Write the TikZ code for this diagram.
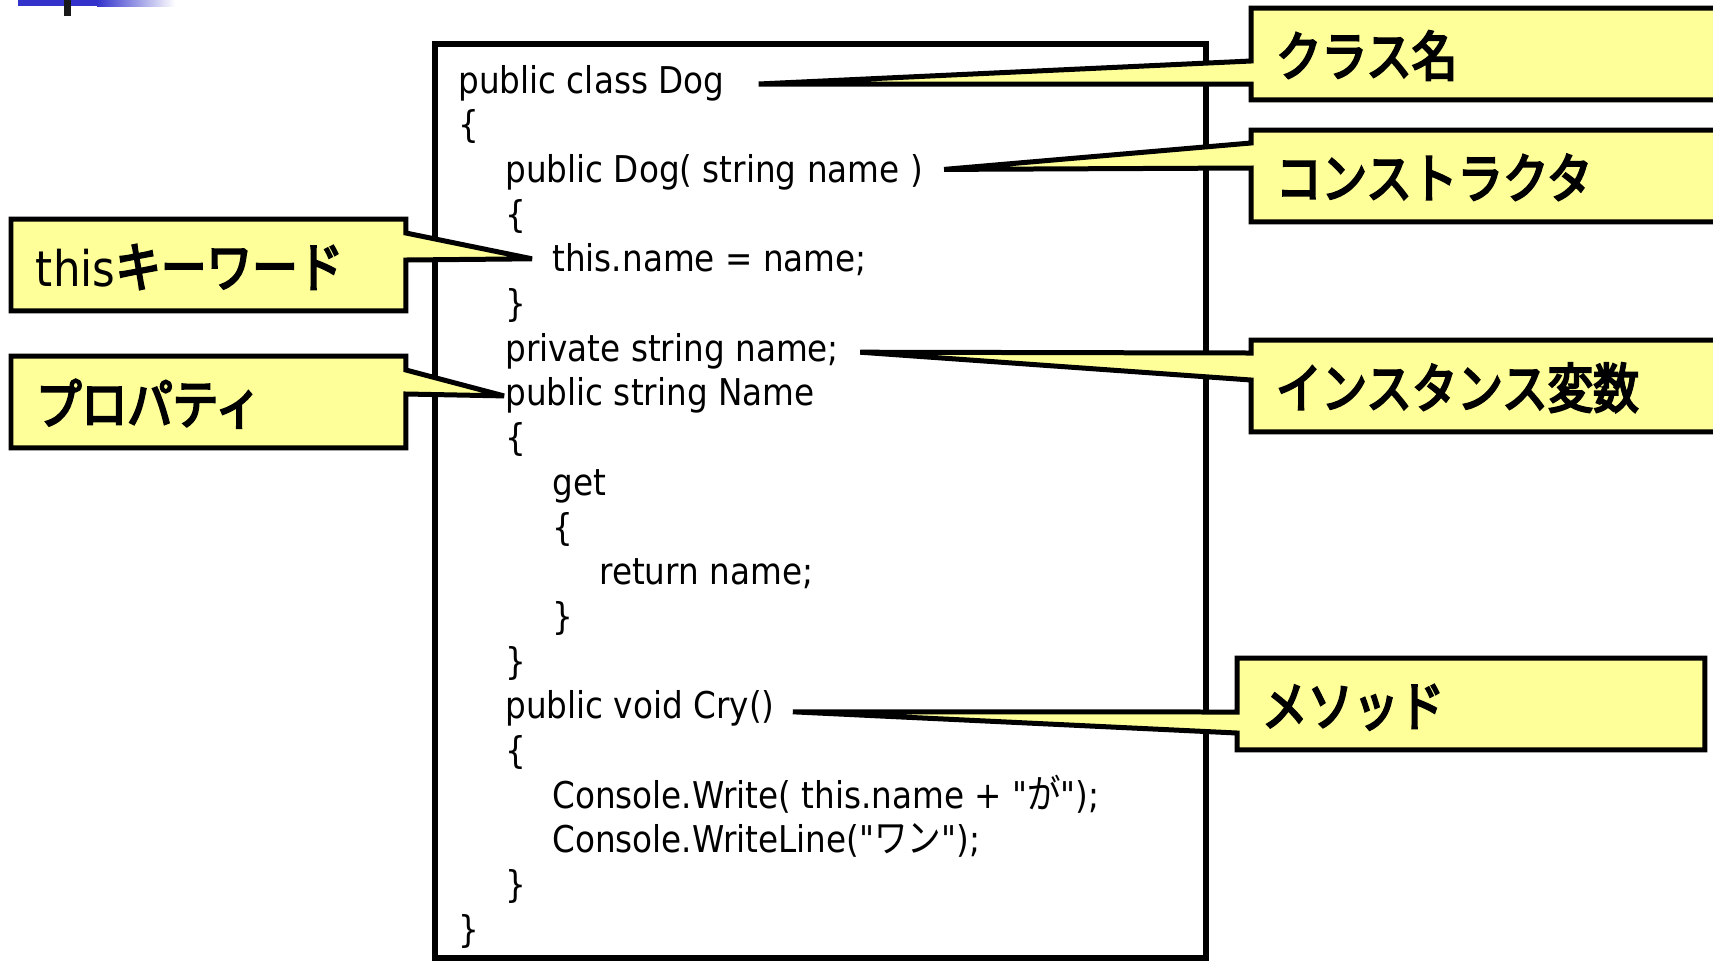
\documentclass[tikz,border=0pt]{standalone}
\usepackage{fontspec}
\setmainfont[FakeStretch=0.885,Ligatures=TeXOff]{DejaVu Sans}
\newfontfamily\jafont[FakeStretch=0.85,Scale=1.07]{Noto Sans CJK JP}
\newfontfamily\jbfont[FakeStretch=0.85,Scale=1.09,FakeBold=4]{Noto Sans CJK JP}
\usetikzlibrary{calc,backgrounds}
\definecolor{TagYellow}{HTML}{FFFF99}
\definecolor{BarBlue}{HTML}{3333CC}

\begin{document}
\begin{tikzpicture}[x=0.02cm,y=-0.02cm,
  codeline/.style={anchor=base west,inner sep=0pt,font=\fontsize{21}{25}\selectfont},
  tag/.style={anchor=north west,inner xsep=0.5cm,inner ysep=0pt,outer sep=0pt,
    minimum height=1.84cm,text height=27pt,text depth=2pt,align=left,
    font=\fontsize{28}{34}\selectfont},
  callout/.style={fill=TagYellow,draw=black,line width=0.1cm,miter limit=2},
  codebox/.style={draw=black,line width=0.11cm}]
\useasboundingbox (0,0) rectangle (1713,961);
% header bar
\fill[BarBlue] (18,0) rectangle (97,6);
\shade[left color=BarBlue,right color=white] (97,0) rectangle (175,6);
\fill[black!90] (64,0) rectangle (71,16);
% listing, one node per line
\foreach \n/\ind/\txt in {1/0/public class Dog, 2/0/\{,
    3/1/public Dog( string name ), 4/1/\{, 5/2/this.name = name;, 6/1/\},
    7/1/private string name;, 8/1/public string Name, 9/1/\{, 10/2/get,
    11/2/\{, 12/3/return name;, 13/2/\}, 14/1/\}, 15/1/public void Cry(),
    16/1/\{, 17/2/Console.Write( this.name + "{\jafont が}");,
    18/2/Console.WriteLine("{\jafont ワン}");, 19/1/\}, 20/0/\}}
  \node[codeline] (l\n) at ({458+47*\ind},{93+44.7*(\n-1)}) {\txt};
% labels
\node[tag,text width=8.78cm] (cls) at (1251,8) {\jbfont クラス名};
\node[tag,text width=8.78cm] (ctor) at (1251,130) {\jbfont コンストラクタ};
\node[tag,text width=8.78cm] (field) at (1251,340) {\jbfont インスタンス変数};
\node[tag,text width=8.36cm] (cry) at (1237,658) {\jbfont メソッド};
\node[tag,text width=6.9cm] (thiskw) at (11,219) {this{\jbfont キーワード}};
\node[tag,text width=6.9cm] (prop) at (11,356) {\jbfont プロパティ};
% wedge tips
\coordinate (cls-tip) at ($(l1.base east)+(34,-9)$);
\coordinate (ctor-tip) at ($(l3.base east)+(21,-13)$);
\coordinate (field-tip) at ($(l7.base east)+(21,-9)$);
\coordinate (cry-tip) at ($(l15.base east)+(18,-7)$);
\coordinate (thiskw-tip) at ($(l5.base west)+(-20,-13)$);
\coordinate (prop-tip) at ($(l8.base west)+(-1,-10)$);
\begin{pgfonlayer}{background}
\draw[codebox] (435,44) rectangle (1206,958);
\foreach \t/\a/\b in {cls/53/76,ctor/13/38,field/13/40,cry/54/75}
  \filldraw[callout] (\t.north west) -- (\t.north east) -- (\t.south east)
    -- (\t.south west) -- ($(\t.north west)+(0,\b)$) -- (\t-tip)
    -- ($(\t.north west)+(0,\a)$) -- cycle;
\foreach \t/\a/\b in {thiskw/14/41,prop/14/38}
  \filldraw[callout] (\t.north east) -- (\t.north west) -- (\t.south west)
    -- (\t.south east) -- ($(\t.north east)+(0,\b)$) -- (\t-tip)
    -- ($(\t.north east)+(0,\a)$) -- cycle;
\end{pgfonlayer}
\end{tikzpicture}
\end{document}
